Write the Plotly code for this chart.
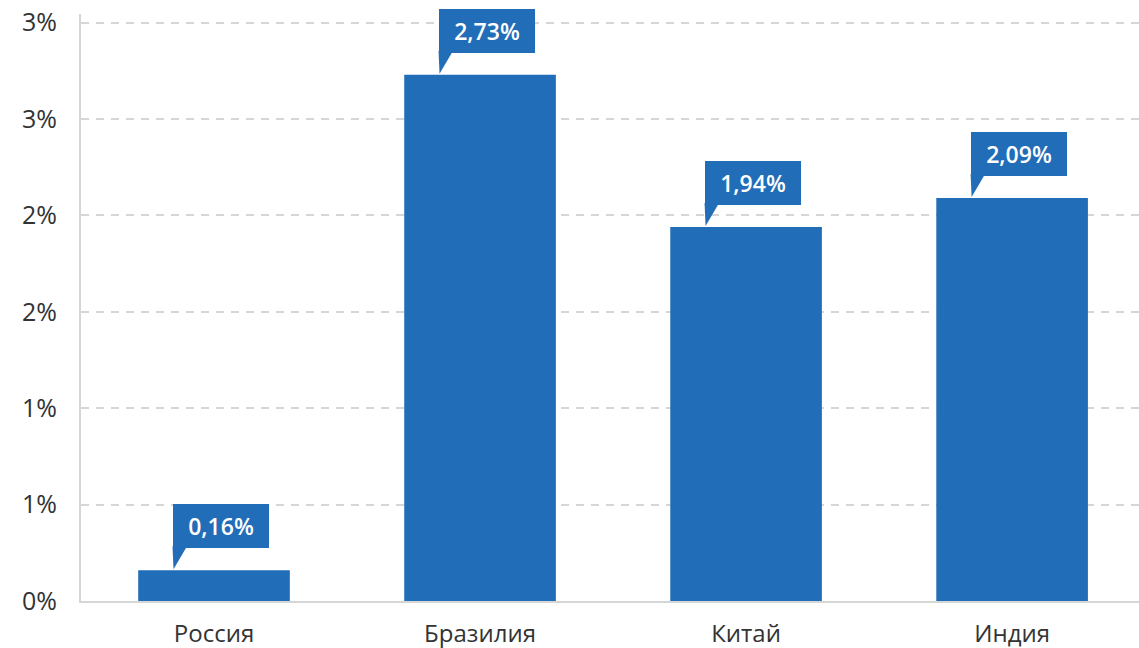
import plotly.graph_objects as go

categories = ["Россия", "Бразилия", "Китай", "Индия"]
values = [0.16, 2.73, 1.94, 2.09]          # percent
labels = ["0,16%", "2,73%", "1,94%", "2,09%"]
tick_vals = [0, 0.5, 1.0, 1.5, 2.0, 2.5, 3.0]
tick_text = ["0%", "1%", "1%", "2%", "2%", "3%", "3%"]

BLUE = "#216db8"
GRID = "#d6d6d6"
FONT = "Open Sans"

fig = go.Figure(go.Bar(
    x=categories, y=values, marker=dict(color=BLUE, line=dict(width=0)),
    hoverinfo="skip",
))

annotations = []
shapes = []
for c, v, t in zip(categories, values, labels):
    annotations.append(dict(
        x=c, y=v, xref="x", yref="y", text=t, showarrow=False,
        xanchor="left", yanchor="bottom", xshift=-41.5, yshift=22,
        width=96, height=44, bgcolor=BLUE, borderpad=0, borderwidth=0,
        font=dict(family=FONT, size=23, color="white", weight=600),
        align="center", valign="middle",
    ))
    shapes.append(dict(
        type="path", xref="x", yref="y", xsizemode="pixel", ysizemode="pixel",
        xanchor=c, yanchor=v,
        path="M -41.5 24 L -40.5 1 L -27 24 Z",
        fillcolor=BLUE, line=dict(width=0), layer="above",
    ))

fig.update_layout(
    width=1139, height=648,
    margin=dict(l=81, r=0, t=14, b=47),
    plot_bgcolor="white", paper_bgcolor="white",
    bargap=0.43, showlegend=False,
    annotations=annotations, shapes=shapes,
    font=dict(family=FONT, color="#333333"),
    xaxis=dict(
        type="category", range=[-0.5, 3.477], automargin=False,
        showline=True, linecolor=GRID, linewidth=2,
        showgrid=False, ticks="", tickfont=dict(size=24, color="#333333"),
        ticklabelstandoff=10,
    ),
    yaxis=dict(
        range=[0, 3.045], tickvals=tick_vals, ticktext=tick_text, automargin=False,
        showline=True, linecolor=GRID, linewidth=2,
        showgrid=True, gridcolor=GRID, gridwidth=2, griddash="8px,7px",
        zeroline=False, ticks="", tickfont=dict(size=25, color="#333333"),
        ticklabelstandoff=17,
    ),
)

fig.write_html(
    "out.html",
    config={"displayModeBar": False},
    post_script="document.body.style.margin='0';document.body.style.overflow='hidden';",
)
